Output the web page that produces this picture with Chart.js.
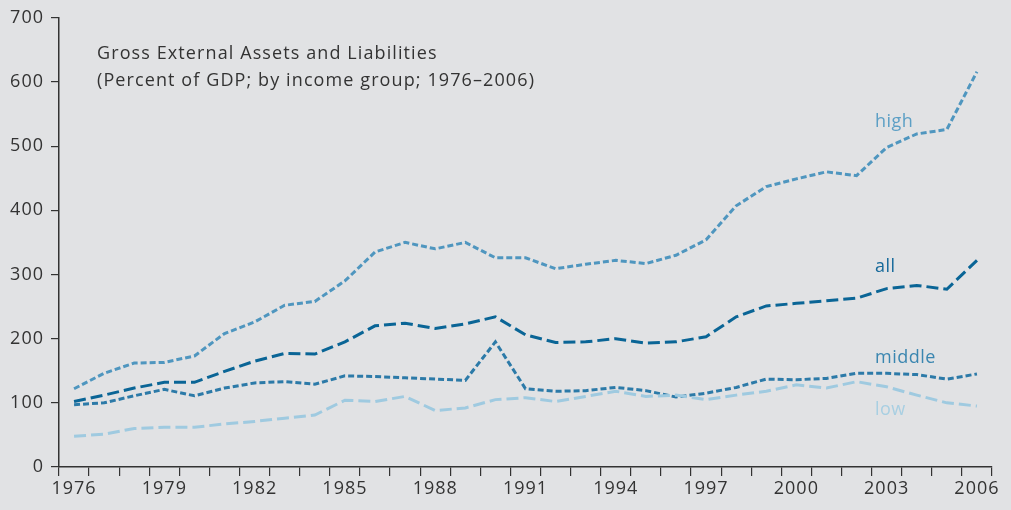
<!DOCTYPE html>
<html>
<head>
<meta charset="utf-8">
<script src="https://cdn.jsdelivr.net/npm/chart.js@4.4.1/dist/chart.umd.min.js"></script>
<style>
  html, body { margin: 0; padding: 0; background: #e1e2e4; }
  #wrap { position: relative; width: 1011px; height: 510px; font-family: "Open Sans", "Noto Sans", sans-serif; }
  #chart { position: absolute; left: 0; top: 0; }
  .title { position: absolute; left: 97px; top: 39px; font-size: 18px; letter-spacing: 1.1px; line-height: 27px; color: #333; }
  .lbl { position: absolute; font-size: 18px; letter-spacing: 0.5px; line-height: 20px; }
</style>
</head>
<body>
<div id="wrap">
  <canvas id="chart" width="1011" height="510"></canvas>
  <div class="title">Gross External Assets and Liabilities<br>(Percent of GDP; by income group; 1976–2006)</div>
  <div class="lbl" style="left:875px; top:110px; color:#5c9fc5;">high</div>
  <div class="lbl" style="left:875px; top:255px; color:#15699a;">all</div>
  <div class="lbl" style="left:875px; top:346px; color:#3a86b0;">middle</div>
  <div class="lbl" style="left:875px; top:398px; color:#a8cfe2;">low</div>
</div>
<script>
// =============================
// Dados (percentual do PIB)
// =============================
const anos = [];
for (let a = 1976; a <= 2006; a++) anos.push(String(a));

const serieHigh = [122, 146, 162, 163, 173, 208, 226, 252, 258, 290, 335, 350, 340, 350, 326,
  326, 309, 316, 322, 317, 330, 354, 407, 437, 449, 460, 454, 498, 519, 526, 616];
const serieAll = [102, 112, 123, 132, 132, 149, 165, 177, 176, 195, 220, 224, 216, 223, 234,
  206, 194, 195, 200, 193, 195, 203, 234, 251, 255, 259, 263, 278, 283, 277, 322];
const serieMiddle = [97, 100, 111, 121, 111, 123, 131, 133, 129, 142, 141, 139, 137, 135, 195,
  122, 118, 119, 124, 119, 109, 115, 124, 137, 136, 138, 146, 146, 144, 137, 145];
const serieLow = [48, 51, 60, 62, 62, 67, 71, 76, 81, 104, 102, 110, 88, 92, 105,
  108, 102, 110, 118, 110, 112, 105, 112, 118, 128, 123, 133, 125, 112, 100, 95];

const anosComRotulo = ["1976", "1979", "1982", "1985", "1988", "1991", "1994", "1997", "2000", "2003", "2006"];
const yTicks = [0, 100, 200, 300, 400, 500, 600, 700];

const corEixo = "#333333";

function serie(dados, cor, dash) {
  return {
    data: dados,
    borderColor: cor,
    borderWidth: 3,
    borderDash: dash,
    pointRadius: 0,
    tension: 0,
    fill: false
  };
}

// espaçamento entre letras nos rótulos dos eixos
const espacamento = {
  id: "espacamento",
  beforeDraw: chart => { chart.ctx.letterSpacing = "1px"; },
  afterDraw: chart => { chart.ctx.letterSpacing = "0px"; }
};

new Chart(document.getElementById("chart"), {
  type: "line",
  data: {
    labels: anos,
    datasets: [
      serie(serieLow, "#9fcae0", [12, 5]),
      serie(serieMiddle, "#2c7aa8", [6, 3]),
      serie(serieHigh, "#4f96bf", [6, 3]),
      serie(serieAll, "#0a6596", [12, 5])
    ]
  },
  plugins: [espacamento],
  options: {
    responsive: false,
    animation: false,
    layout: { padding: { top: 17, right: 19, left: 0, bottom: 0 } },
    plugins: { legend: { display: false }, tooltip: { enabled: false } },
    scales: {
      x: {
        offset: true,
        grid: { offset: true, drawOnChartArea: false, drawTicks: true, tickLength: 9, color: corEixo, lineWidth: 1.2 },
        border: { display: true, color: corEixo, width: 1.5 },
        ticks: {
          autoSkip: false,
          maxRotation: 0,
          padding: 2,
          color: corEixo,
          font: { family: "Open Sans", size: 18 },
          callback: function (v) {
            const l = this.getLabelForValue(v);
            return anosComRotulo.includes(l) ? l : "";
          }
        },
        afterFit: s => { s.height = 43; }
      },
      y: {
        min: 0,
        max: 700,
        afterBuildTicks: s => { s.ticks = yTicks.map(v => ({ value: v })); },
        grid: { drawOnChartArea: false, drawTicks: true, tickLength: 8, color: corEixo, lineWidth: 1.2 },
        border: { display: true, color: corEixo, width: 1.5 },
        ticks: { padding: 7, color: corEixo, font: { family: "Open Sans", size: 18 } },
        afterFit: s => { s.width = 59; }
      }
    }
  }
});
</script>
</body>
</html>
